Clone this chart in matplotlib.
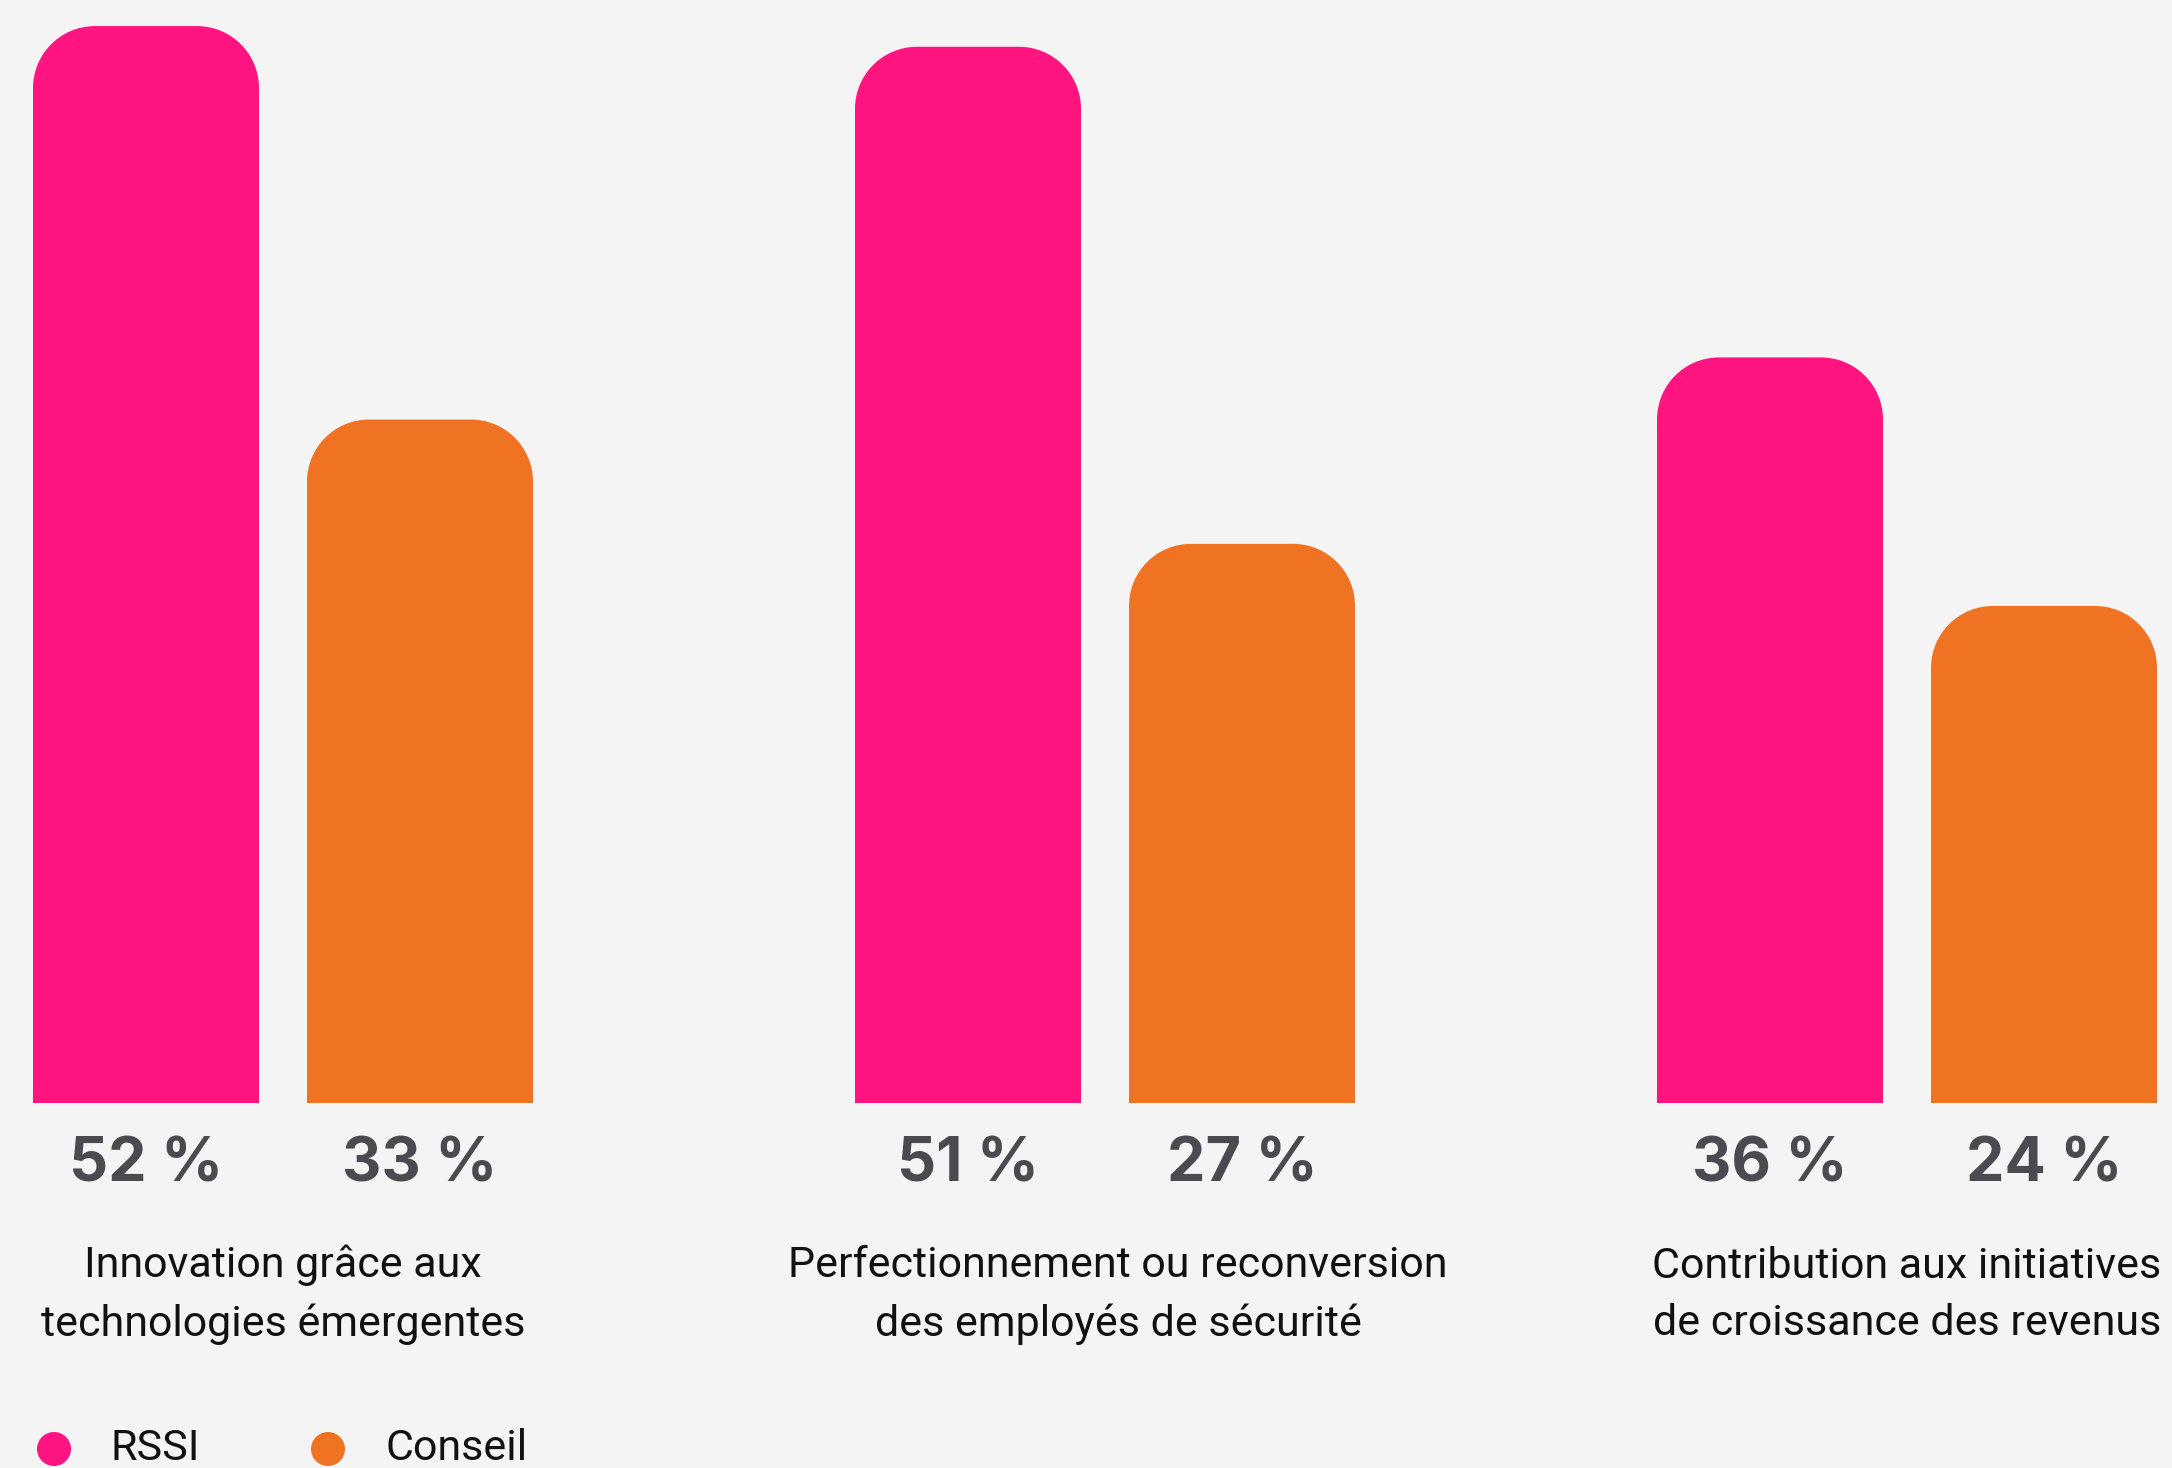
import matplotlib
matplotlib.use("Agg")
import matplotlib.pyplot as plt
from matplotlib.patches import PathPatch, Circle
from matplotlib.path import Path

# data
categories = [
    "Innovation grâce aux\ntechnologies émergentes",
    "Perfectionnement ou reconversion\ndes employés de sécurité",
    "Contribution aux initiatives\nde croissance des revenus",
]
series_names = ["RSSI", "Conseil"]
rssi = [52, 51, 36]
conseil = [33, 27, 24]

# layout (pixels of a 2172x1468 canvas)
W, H = 2172, 1468
group_x = [283, 1105, 1907]
label_x = [283, 1118, 1907]
bar_w = 226
offset = 137
base_px = 1103          # baseline, from top
px_per_pct = 20.71
radius = 62

colors = ["#FF1480", "#F07223"]
bg = "#F4F4F4"
label_color = "#4A4B50"

plt.rcParams["font.family"] = ["Roboto", "DejaVu Sans"]


def top_rounded_bar(x0, w, h, rx, ry):
    """Path of a bar whose two top corners are rounded (circular arcs)."""
    k = 0.5523
    x1 = x0 + w
    verts = [
        (x0, 0), (x0, h - ry),
        (x0, h - ry + k * ry), (x0 + rx - k * rx, h), (x0 + rx, h),
        (x1 - rx, h),
        (x1 - rx + k * rx, h), (x1, h - ry + k * ry), (x1, h - ry),
        (x1, 0), (x0, 0),
    ]
    codes = [Path.MOVETO, Path.LINETO,
             Path.CURVE4, Path.CURVE4, Path.CURVE4,
             Path.LINETO,
             Path.CURVE4, Path.CURVE4, Path.CURVE4,
             Path.LINETO, Path.CLOSEPOLY]
    return Path(verts, codes)


fig = plt.figure(figsize=(W / 100, H / 100), dpi=100, facecolor=bg)

# bar axes: x in pixels, y in percent
ax = fig.add_axes([0, 1 - base_px / H, 1, base_px / H])
ax.set_xlim(0, W)
ax.set_ylim(0, base_px / px_per_pct)
ax.axis("off")

for values, dx, col in [(rssi, -offset, colors[0]), (conseil, offset, colors[1])]:
    for gx, v in zip(group_x, values):
        p = top_rounded_bar(gx + dx - bar_w / 2, bar_w, v, radius, radius / px_per_pct)
        ax.add_patch(PathPatch(p, facecolor=col, edgecolor="none"))

# overlay for texts, in pixel coords
lay = fig.add_axes([0, 0, 1, 1])
lay.set_xlim(0, W)
lay.set_ylim(H, 0)
lay.axis("off")
lay.patch.set_alpha(0)

for gx, lx, r, c, cat in zip(group_x, label_x, rssi, conseil, categories):
    for dx, v in [(-offset, r), (offset, c)]:
        lay.text(gx + dx, 1166, f"{v} %", ha="center", va="center",
                 fontsize=44, fontweight="bold", color=label_color,
                 family=["Inter", "DejaVu Sans"])
    lay.text(lx, 1295, cat, ha="center", va="center", fontsize=31,
             color="#111111", linespacing=1.53)

# legend
for i, name in enumerate(series_names):
    cx = group_x[0] + (-offset if i == 0 else offset) - bar_w / 2 + 21
    lay.add_patch(Circle((cx, 1449), 17, facecolor=colors[i], edgecolor="none"))
    lay.text(cx + 57, 1449, name, ha="left", va="center", fontsize=31,
             color="#111111")

fig.savefig("out.png", dpi=100, facecolor=bg)
